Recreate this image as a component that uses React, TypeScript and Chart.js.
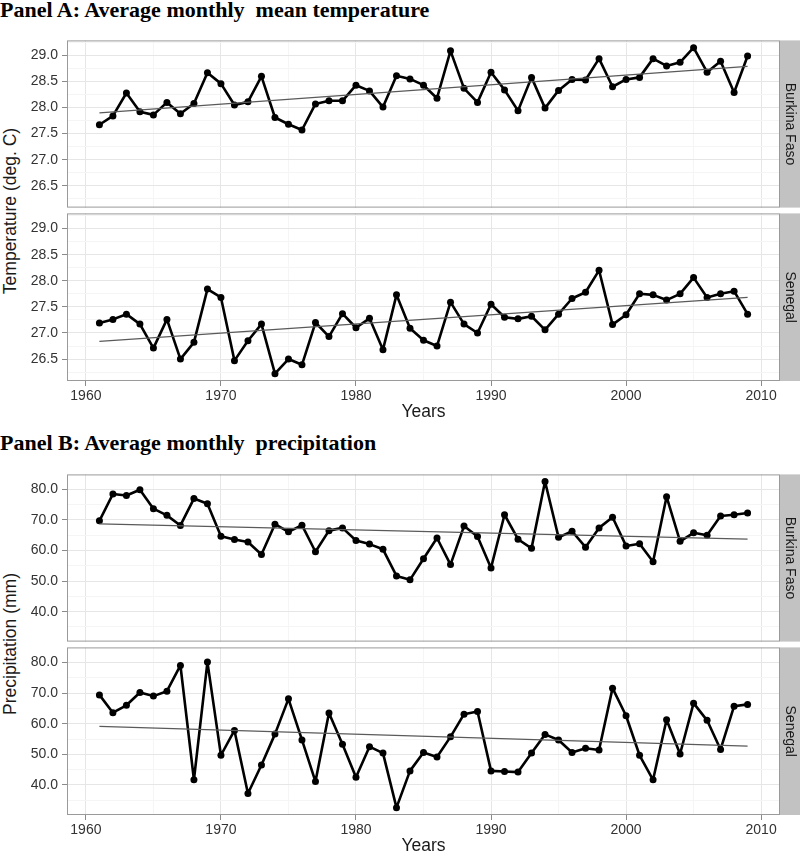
import React, { useEffect, useRef } from "react";
import { Chart, registerables } from "chart.js";

Chart.register(...registerables);

// ---------- data ----------
const years = [
  1961, 1962, 1963, 1964, 1965, 1966, 1967, 1968, 1969, 1970,
  1971, 1972, 1973, 1974, 1975, 1976, 1977, 1978, 1979, 1980,
  1981, 1982, 1983, 1984, 1985, 1986, 1987, 1988, 1989, 1990,
  1991, 1992, 1993, 1994, 1995, 1996, 1997, 1998, 1999, 2000,
  2001, 2002, 2003, 2004, 2005, 2006, 2007, 2008, 2009,
];

const tempBurkina = [
  27.67, 27.84, 28.28, 27.92, 27.86, 28.1, 27.88, 28.08, 28.67, 28.46,
  28.05, 28.11, 28.6, 27.81, 27.68, 27.57, 28.07, 28.13, 28.13, 28.43,
  28.32, 28.01, 28.61, 28.55, 28.43, 28.18, 29.09, 28.37, 28.1, 28.68,
  28.34, 27.94, 28.58, 27.99, 28.33, 28.54, 28.53, 28.94, 28.4, 28.54,
  28.58, 28.94, 28.8, 28.87, 29.15, 28.68, 28.89, 28.29, 28.99,
];

const tempSenegal = [
  27.19, 27.26, 27.36, 27.17, 26.71, 27.26, 26.5, 26.82, 27.84, 27.68,
  26.47, 26.85, 27.17, 26.22, 26.5, 26.39, 27.2, 26.93, 27.37, 27.1,
  27.28, 26.68, 27.73, 27.09, 26.86, 26.75, 27.59, 27.17, 27.0, 27.55,
  27.3, 27.27, 27.32, 27.06, 27.36, 27.66, 27.78, 28.2, 27.16, 27.35,
  27.75, 27.73, 27.63, 27.75, 28.06, 27.68, 27.75, 27.8, 27.36,
];

const precBurkina = [
  69.7, 78.5, 78.0, 79.9, 73.7, 71.5, 68.2, 77.0, 75.3, 64.7,
  63.6, 62.8, 58.7, 68.6, 66.1, 68.3, 59.6, 66.5, 67.4, 63.3,
  62.1, 60.4, 51.7, 50.4, 57.3, 64.1, 55.4, 68.0, 64.6, 54.3,
  71.7, 63.7, 60.7, 82.6, 64.3, 66.3, 61.1, 67.4, 70.9, 61.5,
  62.2, 56.3, 77.6, 63.0, 65.8, 65.0, 71.3, 71.7, 72.3,
];

const precSenegal = [
  69.4, 63.6, 66.0, 70.2, 69.0, 70.6, 79.0, 41.7, 80.1, 49.7,
  57.8, 37.2, 46.5, 56.6, 68.1, 54.7, 41.1, 63.5, 53.3, 42.5,
  52.5, 50.4, 32.6, 44.6, 50.6, 49.1, 55.7, 63.1, 64.0, 44.6,
  44.4, 44.2, 50.4, 56.5, 54.7, 50.6, 52.0, 51.4, 71.6, 62.6,
  49.7, 41.7, 61.3, 50.1, 66.7, 61.1, 51.6, 65.7, 66.3,
];

// linear trend endpoints
const trendYears = [1961, 2009];
const tempBurkinaTrend = [27.9, 28.79];
const tempSenegalTrend = [26.84, 27.68];
const precBurkinaTrend = [68.7, 63.7];
const precSenegalTrend = [59.1, 52.7];

// ticks
const xTicks = [1960, 1965, 1970, 1975, 1980, 1985, 1990, 1995, 2000, 2005, 2010];
const xLabelled = [1960, 1970, 1980, 1990, 2000, 2010];
const tempTicks = [26.25, 26.5, 26.75, 27.0, 27.25, 27.5, 27.75, 28.0, 28.25, 28.5, 28.75, 29.0, 29.25];
const tempLabelled = [26.5, 27.0, 27.5, 28.0, 28.5, 29.0];
const precTicks = [35, 40, 45, 50, 55, 60, 65, 70, 75, 80];
const precLabelled = [40, 50, 60, 70, 80];

const xRange = [1958.6, 2011.4];
const tempRange = [26.08, 29.29];
const precRange = [30.2, 84.9];

// ---------- style ----------
const SANS = "'Liberation Sans', Arial, Helvetica, sans-serif";
const SERIF = "'Liberation Serif', 'Times New Roman', Times, serif";
const GRID_MAJOR = "#e6e6e6";
const GRID_MINOR = "#f5f5f5";
const TICK_COLOR = "#8a8a8a";
const FRAME = "#9a9a9a";
const STRIP = "#c2c2c2";
const TEXT = "#333333";

const PAD = 12;
const AREA_H = 168;
const XAXIS_H = 43;

type PanelProps = {
  areaTop: number;
  values: number[];
  trend: number[];
  yRange: number[];
  yTicks: number[];
  yLabelled: number[];
  strip: string;
  showX: boolean;
};

function Panel({ areaTop, values, trend, yRange, yTicks, yLabelled, strip, showX }: PanelProps) {
  const ref = useRef<HTMLCanvasElement>(null);
  const height = PAD + AREA_H + (showX ? XAXIS_H : PAD);

  useEffect(() => {
    const near = (a: number, list: number[]) => list.some((b) => Math.abs(a - b) < 1e-6);

    const framePlugin = {
      id: "frameStrip",
      afterDraw(chart: any) {
        const { ctx, chartArea } = chart;
        const { left, top, right, bottom } = chartArea;
        ctx.save();
        ctx.fillStyle = STRIP;
        ctx.fillRect(right, top, chart.width - right, bottom - top);
        ctx.strokeStyle = FRAME;
        ctx.lineWidth = 1;
        ctx.strokeRect(left + 0.5, top + 0.5, right - left - 1, bottom - top - 1);
        ctx.translate((right + chart.width) / 2, (top + bottom) / 2);
        ctx.rotate(Math.PI / 2);
        ctx.fillStyle = "#1a1a1a";
        ctx.font = `14px ${SANS}`;
        ctx.textAlign = "center";
        ctx.textBaseline = "middle";
        ctx.fillText(strip, 0, 0);
        ctx.restore();
      },
    };

    const chart = new Chart(ref.current as HTMLCanvasElement, {
      type: "line",
      data: {
        datasets: [
          {
            data: trendYears.map((x, i) => ({ x, y: trend[i] })),
            borderColor: "#5a5a5a",
            borderWidth: 1.2,
            pointRadius: 0,
            tension: 0,
          },
          {
            data: years.map((x, i) => ({ x, y: values[i] })),
            borderColor: "#000000",
            borderWidth: 2.6,
            borderJoinStyle: "round",
            borderCapStyle: "round",
            pointRadius: 3.5,
            pointBackgroundColor: "#000000",
            pointBorderColor: "#000000",
            pointBorderWidth: 0,
            tension: 0,
          },
        ],
      },
      options: {
        animation: false,
        responsive: false,
        events: [],
        layout: { padding: { left: 0, right: 20, top: PAD, bottom: showX ? 0 : PAD } },
        plugins: {
          legend: { display: false },
          tooltip: { enabled: false },
        },
        scales: {
          x: {
            type: "linear",
            min: xRange[0],
            max: xRange[1],
            afterBuildTicks: (s: any) => {
              s.ticks = xTicks.map((v) => ({ value: v }));
            },
            afterFit: (s: any) => {
              s.height = showX ? XAXIS_H : 0;
            },
            border: { display: false },
            grid: {
              color: (c: any) => (near(c.tick?.value, xLabelled) ? GRID_MAJOR : GRID_MINOR),
              lineWidth: 1,
              drawTicks: showX,
              tickLength: 5,
              tickColor: (c: any) => (near(c.tick?.value, xLabelled) ? TICK_COLOR : "rgba(0,0,0,0)"),
            },
            ticks: {
              display: showX,
              autoSkip: false,
              maxRotation: 0,
              padding: 2,
              color: TEXT,
              font: { family: SANS, size: 14 },
              callback: (v: any) => (near(Number(v), xLabelled) ? String(v) : ""),
            },
            title: {
              display: showX,
              text: "Years",
              color: "#1a1a1a",
              font: { family: SANS, size: 17.5 },
              padding: { top: 0, bottom: 1.5 },
            },
          },
          y: {
            type: "linear",
            min: yRange[0],
            max: yRange[1],
            afterBuildTicks: (s: any) => {
              s.ticks = yTicks.map((v) => ({ value: v }));
            },
            afterFit: (s: any) => {
              s.width = 67;
            },
            border: { display: false },
            grid: {
              color: (c: any) => (near(c.tick?.value, yLabelled) ? GRID_MAJOR : GRID_MINOR),
              lineWidth: 1,
              tickLength: 5,
              tickColor: (c: any) => (near(c.tick?.value, yLabelled) ? TICK_COLOR : "rgba(0,0,0,0)"),
            },
            ticks: {
              autoSkip: false,
              padding: 4,
              color: TEXT,
              font: { family: SANS, size: 14 },
              callback: (v: any) => (near(Number(v), yLabelled) ? Number(v).toFixed(1) : ""),
            },
          },
        },
      },
      plugins: [framePlugin],
    } as any);
    return () => chart.destroy();
  }, []);

  return (
    <canvas
      ref={ref}
      width={800}
      height={height}
      style={{ position: "absolute", left: 0, top: areaTop - PAD, width: 800, height }}
    />
  );
}

const titleStyle: React.CSSProperties = {
  position: "absolute",
  left: 0,
  margin: 0,
  fontFamily: SERIF,
  fontWeight: "bold",
  fontSize: 22,
  lineHeight: "22px",
  whiteSpace: "pre",
  color: "#000",
};

const yTitleStyle = (cx: number, cy: number): React.CSSProperties => ({
  position: "absolute",
  left: cx,
  top: cy,
  transform: "translate(-50%, -50%) rotate(-90deg)",
  fontFamily: SANS,
  fontSize: 17.5,
  lineHeight: "20px",
  whiteSpace: "nowrap",
  color: "#1a1a1a",
});

export default function App() {
  return (
    <div
      style={{
        position: "fixed",
        left: 0,
        top: 0,
        width: 800,
        height: 853,
        overflow: "hidden",
        background: "#ffffff",
      }}
    >
      <div style={{ ...titleStyle, top: -1 }}>Panel A: Average monthly  mean temperature</div>
      <div style={{ ...titleStyle, top: 432 }}>Panel B: Average monthly  precipitation</div>

      <div style={yTitleStyle(10, 211)}>Temperature (deg. C)</div>
      <div style={yTitleStyle(10, 644)}>Precipitation (mm)</div>

      <Panel areaTop={40} values={tempBurkina} trend={tempBurkinaTrend} yRange={tempRange}
        yTicks={tempTicks} yLabelled={tempLabelled} strip="Burkina Faso" showX={false} />
      <Panel areaTop={213} values={tempSenegal} trend={tempSenegalTrend} yRange={tempRange}
        yTicks={tempTicks} yLabelled={tempLabelled} strip="Senegal" showX={true} />
      <Panel areaTop={474} values={precBurkina} trend={precBurkinaTrend} yRange={precRange}
        yTicks={precTicks} yLabelled={precLabelled} strip="Burkina Faso" showX={false} />
      <Panel areaTop={647} values={precSenegal} trend={precSenegalTrend} yRange={precRange}
        yTicks={precTicks} yLabelled={precLabelled} strip="Senegal" showX={true} />
    </div>
  );
}
